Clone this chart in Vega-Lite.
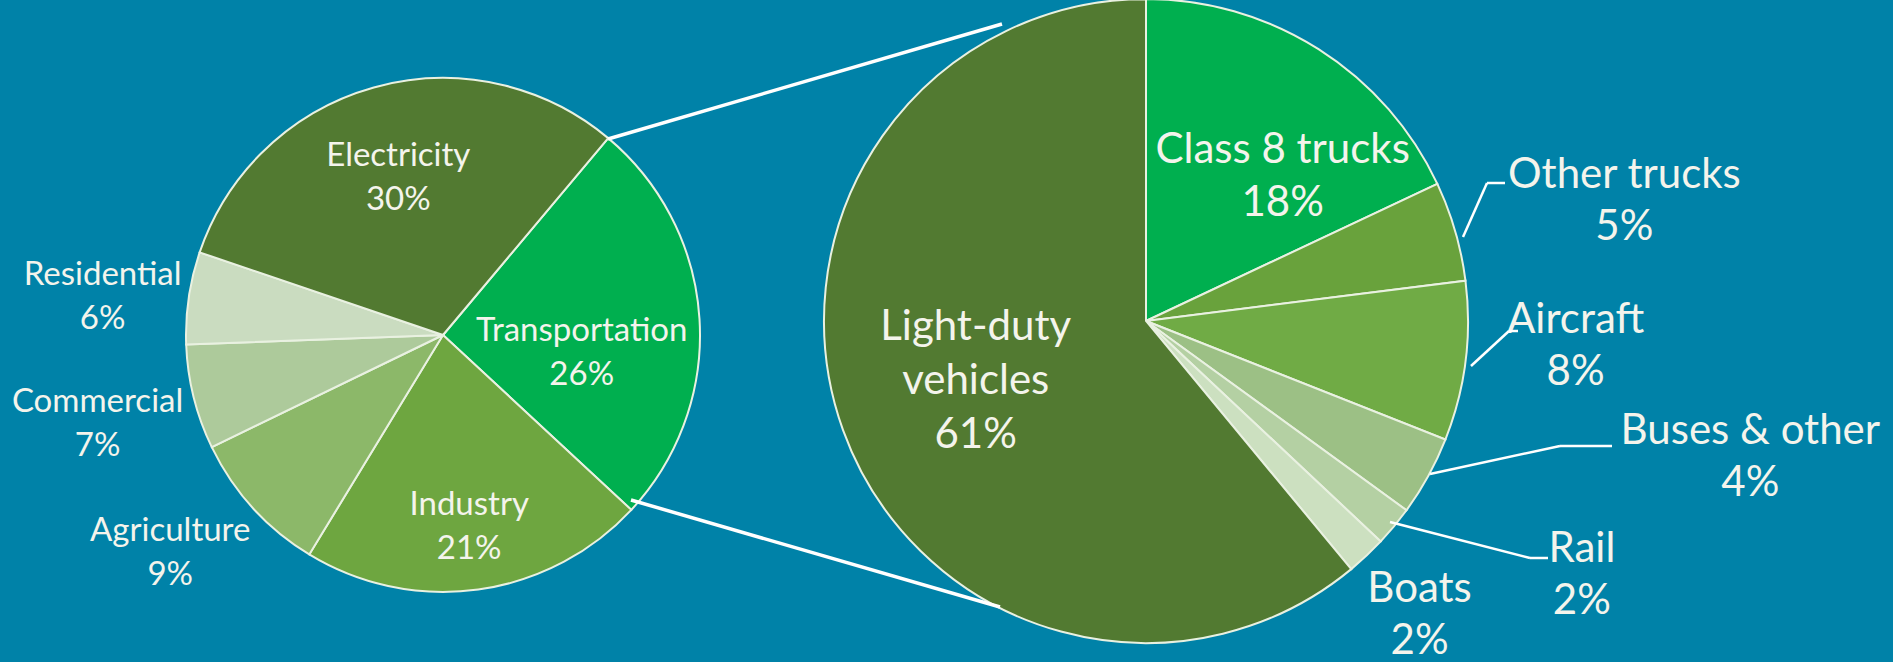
{
  "$schema": "https://vega.github.io/schema/vega-lite/v6.json",
  "width": 1893,
  "height": 662,
  "autosize": {"type": "none"},
  "padding": 0,
  "background": "#0082A8",
  "config": {"view": {"stroke": null}},
  "layer": [
    {
      "data": {"values": [
        {"name": "Transportation", "label": "Transportation\n26%", "value": 25.8, "rank": 1},
        {"name": "Industry", "label": "Industry\n21%", "value": 21.8, "rank": 2},
        {"name": "Agriculture", "label": "Agriculture\n9%", "value": 9.1, "rank": 3},
        {"name": "Commercial", "label": "Commercial\n7%", "value": 6.6, "rank": 4},
        {"name": "Residential", "label": "Residential\n6%", "value": 5.8, "rank": 5},
        {"name": "Electricity", "label": "Electricity\n30%", "value": 30.9, "rank": 6}
      ]},
      "encoding": {
        "theta": {"field": "value", "type": "quantitative", "stack": true, "scale": {"range": [0.6981, 6.9813]}},
        "order": {"field": "rank", "type": "quantitative"},
        "x": {"datum": 443, "type": "quantitative", "scale": {"domain": [0, 1893], "nice": false, "zero": false}, "axis": null},
        "y": {"datum": 335, "type": "quantitative", "scale": {"domain": [0, 662], "nice": false, "zero": false, "reverse": true}, "axis": null}
      },
      "layer": [
        {
          "mark": {"type": "arc", "outerRadius": 257, "stroke": "#E9F1E1", "strokeWidth": 2},
          "encoding": {
            "color": {"field": "name", "type": "nominal", "legend": null, "scale": {
              "domain": ["Electricity", "Transportation", "Industry", "Agriculture", "Commercial", "Residential", "Light-duty vehicles", "Class 8 trucks", "Other trucks", "Aircraft", "Buses & other", "Rail", "Boats"],
              "range": ["#527A31", "#00AF4F", "#6EA640", "#8CB869", "#ADCA9B", "#CADCC0", "#527A31", "#00AF4F", "#69A23C", "#70AB45", "#9CC085", "#B4D0A3", "#CCE0C0"]
            }}
          }
        },
        {
          "mark": {"type": "text", "radius": 166, "dy": -19, "font": "Lato", "fontSize": 33, "lineHeight": 44, "lineBreak": "\n", "color": "#F4F4EC", "align": "center", "baseline": "middle"},
          "encoding": {"text": {"condition": {"test": "datum.name === 'Electricity'", "field": "label"}, "value": ""}}
        },
        {
          "mark": {"type": "text", "radius": 139, "dy": 5, "font": "Lato", "fontSize": 33, "lineHeight": 44, "lineBreak": "\n", "color": "#F4F4EC", "align": "center", "baseline": "middle"},
          "encoding": {"text": {"condition": {"test": "datum.name === 'Transportation'", "field": "label"}, "value": ""}}
        },
        {
          "mark": {"type": "text", "radius": 191, "dy": -19, "font": "Lato", "fontSize": 33, "lineHeight": 44, "lineBreak": "\n", "color": "#F4F4EC", "align": "center", "baseline": "middle"},
          "encoding": {"text": {"condition": {"test": "datum.name === 'Industry'", "field": "label"}, "value": ""}}
        },
        {
          "mark": {"type": "text", "radius": 347, "dx": -16, "dy": -37, "font": "Lato", "fontSize": 33, "lineHeight": 44, "lineBreak": "\n", "color": "#F4F4EC", "align": "center", "baseline": "middle"},
          "encoding": {"text": {"condition": {"test": "datum.name === 'Agriculture'", "field": "label"}, "value": ""}}
        },
        {
          "mark": {"type": "text", "radius": 356, "dy": -19, "font": "Lato", "fontSize": 33, "lineHeight": 44, "lineBreak": "\n", "color": "#F4F4EC", "align": "center", "baseline": "middle"},
          "encoding": {"text": {"condition": {"test": "datum.name === 'Commercial'", "field": "label"}, "value": ""}}
        },
        {
          "mark": {"type": "text", "radius": 344, "dy": -10, "font": "Lato", "fontSize": 33, "lineHeight": 44, "lineBreak": "\n", "color": "#F4F4EC", "align": "center", "baseline": "middle"},
          "encoding": {"text": {"condition": {"test": "datum.name === 'Residential'", "field": "label"}, "value": ""}}
        }
      ]
    },
    {
      "data": {"values": [
        {"name": "Class 8 trucks", "label": "Class 8 trucks\n18%", "value": 18, "rank": 1},
        {"name": "Other trucks", "label": "Other trucks\n5%", "value": 5, "rank": 2},
        {"name": "Aircraft", "label": "Aircraft\n8%", "value": 8, "rank": 3},
        {"name": "Buses & other", "label": "Buses & other\n4%", "value": 4, "rank": 4},
        {"name": "Rail", "label": "Rail\n2%", "value": 2, "rank": 5},
        {"name": "Boats", "label": "Boats\n2%", "value": 2, "rank": 6},
        {"name": "Light-duty vehicles", "label": "Light-duty\nvehicles\n61%", "value": 61, "rank": 7}
      ]},
      "encoding": {
        "theta": {"field": "value", "type": "quantitative", "stack": true, "scale": {"range": [0, 6.2832]}},
        "order": {"field": "rank", "type": "quantitative"},
        "x": {"datum": 1146, "type": "quantitative", "scale": {"domain": [0, 1893], "nice": false, "zero": false}, "axis": null},
        "y": {"datum": 321, "type": "quantitative", "scale": {"domain": [0, 662], "nice": false, "zero": false, "reverse": true}, "axis": null}
      },
      "layer": [
        {
          "mark": {"type": "arc", "outerRadius": 322, "stroke": "#E9F1E1", "strokeWidth": 2},
          "encoding": {"color": {"field": "name", "type": "nominal", "legend": null}}
        },
        {
          "mark": {"type": "text", "radius": 199, "dx": 30, "dy": -3, "font": "Lato", "fontSize": 42, "lineHeight": 53, "lineBreak": "\n", "color": "#F4F4EC", "align": "center", "baseline": "middle"},
          "encoding": {"text": {"condition": {"test": "datum.name === 'Class 8 trucks'", "field": "label"}, "value": ""}}
        },
        {
          "mark": {"type": "text", "radius": 181, "dy": -55, "font": "Lato", "fontSize": 42, "lineHeight": 54, "lineBreak": "\n", "color": "#F4F4EC", "align": "center", "baseline": "middle"},
          "encoding": {"text": {"condition": {"test": "datum.name === 'Light-duty vehicles'", "field": "label"}, "value": ""}}
        },
        {
          "mark": {"type": "text", "radius": 494, "dx": 4, "dy": -8, "font": "Lato", "fontSize": 42, "lineHeight": 52, "lineBreak": "\n", "color": "#F4F4EC", "align": "center", "baseline": "middle"},
          "encoding": {"text": {"condition": {"test": "datum.name === 'Other trucks'", "field": "label"}, "value": ""}}
        },
        {
          "mark": {"type": "text", "radius": 432, "dx": 1, "dy": -55, "font": "Lato", "fontSize": 42, "lineHeight": 52, "lineBreak": "\n", "color": "#F4F4EC", "align": "center", "baseline": "middle"},
          "encoding": {"text": {"condition": {"test": "datum.name === 'Aircraft'", "field": "label"}, "value": ""}}
        },
        {
          "mark": {"type": "text", "radius": 620, "dx": 61, "dy": -189, "font": "Lato", "fontSize": 42, "lineHeight": 52, "lineBreak": "\n", "color": "#F4F4EC", "align": "center", "baseline": "middle"},
          "encoding": {"text": {"condition": {"test": "datum.name === 'Buses & other'", "field": "label"}, "value": ""}}
        },
        {
          "mark": {"type": "text", "radius": 506, "dx": 46, "dy": -95, "font": "Lato", "fontSize": 42, "lineHeight": 52, "lineBreak": "\n", "color": "#F4F4EC", "align": "center", "baseline": "middle"},
          "encoding": {"text": {"condition": {"test": "datum.name === 'Rail'", "field": "label"}, "value": ""}}
        },
        {
          "mark": {"type": "text", "radius": 404, "dx": -3, "dy": -27, "font": "Lato", "fontSize": 42, "lineHeight": 52, "lineBreak": "\n", "color": "#F4F4EC", "align": "center", "baseline": "middle"},
          "encoding": {"text": {"condition": {"test": "datum.name === 'Boats'", "field": "label"}, "value": ""}}
        }
      ]
    },
    {
      "data": {"values": [{}]},
      "mark": {"type": "rule", "color": "#FFFFFF", "strokeWidth": 3.5},
      "encoding": {
        "x": {"datum": 608, "type": "quantitative", "scale": {"domain": [0, 1893], "nice": false, "zero": false}, "axis": null},
        "y": {"datum": 139, "type": "quantitative", "scale": {"domain": [0, 662], "nice": false, "zero": false, "reverse": true}, "axis": null},
        "x2": {"datum": 1002},
        "y2": {"datum": 24}
      }
    },
    {
      "data": {"values": [{}]},
      "mark": {"type": "rule", "color": "#FFFFFF", "strokeWidth": 3.5},
      "encoding": {
        "x": {"datum": 631, "type": "quantitative", "scale": {"domain": [0, 1893], "nice": false, "zero": false}, "axis": null},
        "y": {"datum": 500, "type": "quantitative", "scale": {"domain": [0, 662], "nice": false, "zero": false, "reverse": true}, "axis": null},
        "x2": {"datum": 1000},
        "y2": {"datum": 607}
      }
    },
    {
      "data": {"values": [{}]},
      "mark": {"type": "rule", "color": "#FFFFFF", "strokeWidth": 2.5},
      "encoding": {
        "x": {"datum": 1463, "type": "quantitative", "scale": {"domain": [0, 1893], "nice": false, "zero": false}, "axis": null},
        "y": {"datum": 237, "type": "quantitative", "scale": {"domain": [0, 662], "nice": false, "zero": false, "reverse": true}, "axis": null},
        "x2": {"datum": 1487},
        "y2": {"datum": 183}
      }
    },
    {
      "data": {"values": [{}]},
      "mark": {"type": "rule", "color": "#FFFFFF", "strokeWidth": 2.5},
      "encoding": {
        "x": {"datum": 1487, "type": "quantitative", "scale": {"domain": [0, 1893], "nice": false, "zero": false}, "axis": null},
        "y": {"datum": 183, "type": "quantitative", "scale": {"domain": [0, 662], "nice": false, "zero": false, "reverse": true}, "axis": null},
        "x2": {"datum": 1505},
        "y2": {"datum": 183}
      }
    },
    {
      "data": {"values": [{}]},
      "mark": {"type": "rule", "color": "#FFFFFF", "strokeWidth": 2.5},
      "encoding": {
        "x": {"datum": 1471, "type": "quantitative", "scale": {"domain": [0, 1893], "nice": false, "zero": false}, "axis": null},
        "y": {"datum": 366, "type": "quantitative", "scale": {"domain": [0, 662], "nice": false, "zero": false, "reverse": true}, "axis": null},
        "x2": {"datum": 1509},
        "y2": {"datum": 331}
      }
    },
    {
      "data": {"values": [{}]},
      "mark": {"type": "rule", "color": "#FFFFFF", "strokeWidth": 2.5},
      "encoding": {
        "x": {"datum": 1509, "type": "quantitative", "scale": {"domain": [0, 1893], "nice": false, "zero": false}, "axis": null},
        "y": {"datum": 331, "type": "quantitative", "scale": {"domain": [0, 662], "nice": false, "zero": false, "reverse": true}, "axis": null},
        "x2": {"datum": 1518},
        "y2": {"datum": 331}
      }
    },
    {
      "data": {"values": [{}]},
      "mark": {"type": "rule", "color": "#FFFFFF", "strokeWidth": 2.5},
      "encoding": {
        "x": {"datum": 1430, "type": "quantitative", "scale": {"domain": [0, 1893], "nice": false, "zero": false}, "axis": null},
        "y": {"datum": 474, "type": "quantitative", "scale": {"domain": [0, 662], "nice": false, "zero": false, "reverse": true}, "axis": null},
        "x2": {"datum": 1560},
        "y2": {"datum": 446}
      }
    },
    {
      "data": {"values": [{}]},
      "mark": {"type": "rule", "color": "#FFFFFF", "strokeWidth": 2.5},
      "encoding": {
        "x": {"datum": 1560, "type": "quantitative", "scale": {"domain": [0, 1893], "nice": false, "zero": false}, "axis": null},
        "y": {"datum": 446, "type": "quantitative", "scale": {"domain": [0, 662], "nice": false, "zero": false, "reverse": true}, "axis": null},
        "x2": {"datum": 1612},
        "y2": {"datum": 446}
      }
    },
    {
      "data": {"values": [{}]},
      "mark": {"type": "rule", "color": "#FFFFFF", "strokeWidth": 2.5},
      "encoding": {
        "x": {"datum": 1390, "type": "quantitative", "scale": {"domain": [0, 1893], "nice": false, "zero": false}, "axis": null},
        "y": {"datum": 522, "type": "quantitative", "scale": {"domain": [0, 662], "nice": false, "zero": false, "reverse": true}, "axis": null},
        "x2": {"datum": 1530},
        "y2": {"datum": 558}
      }
    },
    {
      "data": {"values": [{}]},
      "mark": {"type": "rule", "color": "#FFFFFF", "strokeWidth": 2.5},
      "encoding": {
        "x": {"datum": 1530, "type": "quantitative", "scale": {"domain": [0, 1893], "nice": false, "zero": false}, "axis": null},
        "y": {"datum": 558, "type": "quantitative", "scale": {"domain": [0, 662], "nice": false, "zero": false, "reverse": true}, "axis": null},
        "x2": {"datum": 1548},
        "y2": {"datum": 558}
      }
    }
  ],
  "resolve": {"scale": {"theta": "independent"}}
}
